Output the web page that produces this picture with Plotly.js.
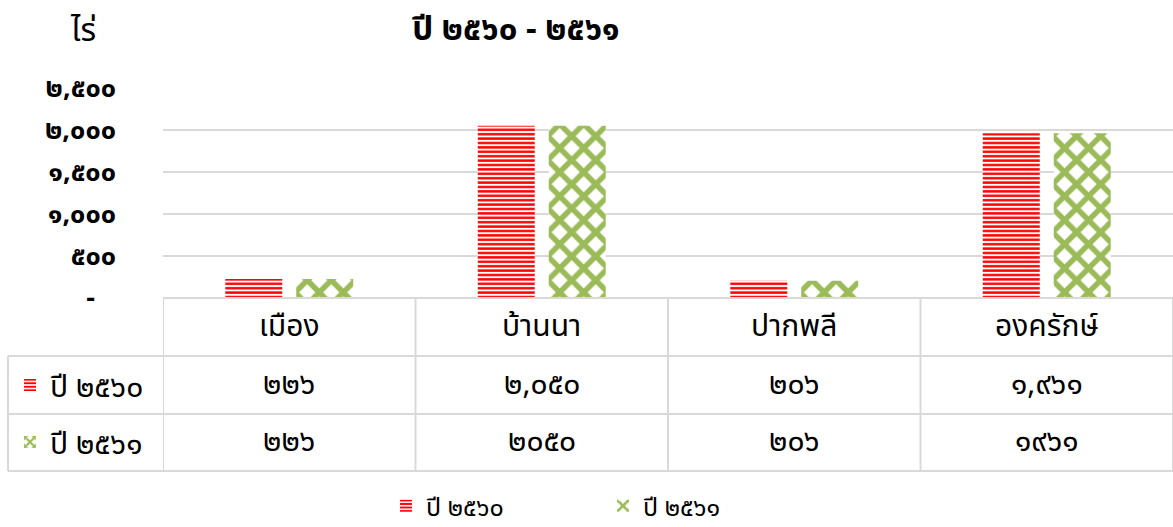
<!DOCTYPE html>
<html><head><meta charset="utf-8">
<script src="https://cdn.plot.ly/plotly-3.0.1.min.js"></script>
<style>html,body{margin:0;padding:0;background:#fff}#chart{width:1173px;height:527px}</style>
</head><body><div id="chart"></div>
<script>
// ---- data ----
const categories = ['เมือง', 'บ้านนา', 'ปากพลี', 'องครักษ์'];
const seriesNames = ['ปี ๒๕๖๐', 'ปี ๒๕๖๑'];
const values2560 = [226, 2050, 206, 1961];
const values2561 = [226, 2050, 206, 1961];
const tableUseComma = [true, false];
const yTickValues = [0, 500, 1000, 1500, 2000, 2500];
const yTickLabels = ['-\u00a0\u00a0\u00a0', '๕๐๐', '๑,๐๐๐', '๑,๕๐๐', '๒,๐๐๐', '๒,๕๐๐'];
const titleText = 'ปี ๒๕๖๐ - ๒๕๖๑';
const unitText = 'ไร่';

// ---- helpers ----
const THAI_DIGITS = '๐๑๒๓๔๕๖๗๘๙';
function toThai(n, comma) {
  let s = String(Math.round(n));
  if (comma) s = s.replace(/\B(?=(\d{3})+(?!\d))/g, ',');
  return s.replace(/\d/g, d => THAI_DIGITS[+d]);
}

const FONT = '"Noto Sans Thai", "Noto Sans", sans-serif';
const RED = '#FF0000', GREEN = '#9BBB59', GRID = '#D9D9D9';
const W = 1173, H = 527;
const plotL = 163, plotT = 88, plotB = 298, plotR = 1173;
const plotH = plotB - plotT, plotW = plotR - plotL;
const py = px => (plotB - px) / plotH;      // pixel row -> paper y
const pxX = px => (px - plotL) / plotW;     // pixel col -> paper x

const patterns = [
  {shape: '-', fgcolor: RED, bgcolor: '#FFFFFF', size: 4.4, solidity: 0.55, fillmode: 'replace'},
  {shape: 'x', fgcolor: GREEN, bgcolor: '#FFFFFF', size: 17, solidity: 0.55, fillmode: 'replace'}
];
const seriesValues = [values2560, values2561];
const seriesColors = [RED, GREEN];

const traces = [];
seriesValues.forEach((vals, i) => {
  traces.push({
    type: 'bar', x: categories, y: vals, name: seriesNames[i],
    marker: {color: seriesColors[i], line: {width: 0}, pattern: patterns[i]},
    legend: 'legend', hoverinfo: 'x+y'
  });
});
// legend entries for the data table rows
seriesValues.forEach((vals, i) => {
  traces.push({
    type: 'bar', x: [null], y: [null], name: seriesNames[i],
    xaxis: 'x2', yaxis: 'y2',
    marker: {color: seriesColors[i], line: {width: 0}, pattern: Object.assign({}, patterns[i], i === 1 ? {size: 8} : {})},
    legend: i === 0 ? 'legend2' : 'legend3', hoverinfo: 'skip'
  });
});

// table geometry (pixel rows)
const rowLines = [298, 356, 414, 471];
const tableLeft = 8;
const shapes = [];
const lineStyle = {color: GRID, width: 2};
shapes.push({type: 'line', xref: 'paper', yref: 'paper', x0: 0, x1: 1, y0: py(rowLines[0]), y1: py(rowLines[0]), line: lineStyle});
for (let r = 1; r < rowLines.length; r++) {
  shapes.push({type: 'line', xref: 'paper', yref: 'paper', x0: pxX(tableLeft), x1: 1, y0: py(rowLines[r]), y1: py(rowLines[r]), line: lineStyle});
}
for (let i = 0; i <= categories.length; i++) {
  shapes.push({type: 'line', xref: 'x', yref: 'paper', x0: i - 0.5, x1: i - 0.5, y0: py(rowLines[0]), y1: py(rowLines[3]), line: lineStyle});
}
shapes.push({type: 'line', xref: 'paper', yref: 'paper', x0: pxX(tableLeft), x1: pxX(tableLeft), y0: py(rowLines[1]), y1: py(rowLines[3]), line: lineStyle});

const annotations = [];
const rowCenters = [327, 385, 442];
const tableFont = {family: FONT, size: 30, color: '#000'};
categories.forEach((c, i) => {
  annotations.push({x: c, xref: 'x', y: py(rowCenters[0]), yref: 'paper', text: c, showarrow: false,
    font: tableFont, xanchor: 'center', yanchor: 'middle'});
  seriesValues.forEach((vals, s) => {
    annotations.push({x: c, xref: 'x', y: py(rowCenters[s + 1]), yref: 'paper', text: toThai(vals[i], tableUseComma[s]),
      showarrow: false, font: tableFont, xanchor: 'center', yanchor: 'middle'});
  });
});
annotations.push({x: pxX(83), xref: 'paper', y: py(31), yref: 'paper', text: unitText, showarrow: false,
  font: {family: FONT, size: 32, color: '#000'}, xanchor: 'center', yanchor: 'middle'});

const layout = {
  width: W, height: H,
  margin: {l: plotL, r: W - plotR, t: plotT, b: H - plotB, pad: 0},
  paper_bgcolor: '#fff', plot_bgcolor: '#fff',
  title: {text: titleText, x: 516 / W, xref: 'container', xanchor: 'center', y: 1 - 28 / H, yref: 'container', yanchor: 'middle',
    font: {family: FONT, size: 33, weight: 'bold', color: '#000'}},
  barmode: 'group', bargap: 0.438, bargroupgap: 0.197,
  xaxis: {type: 'category', range: [-0.5, categories.length - 0.5], showticklabels: false, showgrid: false, zeroline: false, showline: false, ticks: ''},
  yaxis: {range: [0, 2500], tickvals: yTickValues, ticktext: yTickLabels, showgrid: true, gridcolor: GRID, gridwidth: 2,
    zeroline: false, showline: false, ticks: '', ticklabelstandoff: 46,
    tickfont: {family: FONT, size: 27, weight: 'bold', color: '#000'}},
  xaxis2: {overlaying: 'x', visible: false, range: [0, 1]},
  yaxis2: {overlaying: 'y', visible: false, range: [0, 1]},
  showlegend: true,
  legend: {orientation: 'h', xref: 'container', yref: 'container', x: 386 / W, y: 1 - 506 / H, xanchor: 'left', yanchor: 'middle',
    font: {family: FONT, size: 25, color: '#000'}, entrywidth: 172, bgcolor: 'rgba(0,0,0,0)', traceorder: 'normal'},
  legend2: {xref: 'container', yref: 'container', x: 10 / W, y: 1 - 385 / H, xanchor: 'left', yanchor: 'middle',
    font: tableFont, bgcolor: 'rgba(0,0,0,0)'},
  legend3: {xref: 'container', yref: 'container', x: 10 / W, y: 1 - 442 / H, xanchor: 'left', yanchor: 'middle',
    font: tableFont, bgcolor: 'rgba(0,0,0,0)'},
  shapes: shapes,
  annotations: annotations,
  hovermode: false
};

Plotly.newPlot('chart', traces, layout, {displayModeBar: false, staticPlot: true});
</script>
</body></html>
